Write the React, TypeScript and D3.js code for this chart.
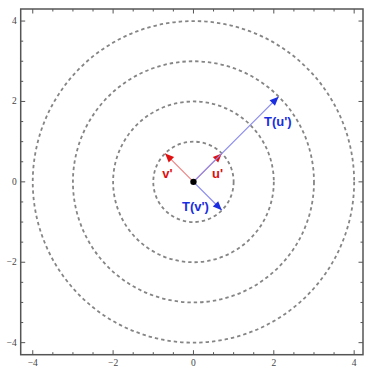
import React from 'react';
import * as d3 from 'd3';

// level circles x^2 + y^2 = r^2
const radii = [1, 2, 3, 4];

// vectors drawn from the origin
const vectorNames = ["u'", "v'", "T(u')", "T(v')"];
const vectorX = [0.707, -0.707, 2.12, 0.707];
const vectorY = [0.707, 0.707, 2.12, -0.707];

const majorTicks = [-4, -2, 0, 2, 4];
const minorTicks = d3.range(-4, 4.01, 0.5);

const W = 365;
const H = 368;

const fmt = (t: number) => (t < 0 ? '\u2212' + (-t) : String(t));

const App = () => {
    const x = d3.scaleLinear().domain([-4.3, 4.22]).range([20.7, 363]);
    const y = d3.scaleLinear().domain([-4.3, 4.3]).range([354.7, 9]);

    const frameColor = '#555';
    const isRed = (i: number) => i < 2;
    const lineColor = (i: number) => (isRed(i) ? '#ee8080' : '#8a8af0');
    const headColor = (i: number) => (isRed(i) ? '#e01010' : '#1a2ee0');

    // label placement (data coords)
    const labelPos = [[0.6, 0.22], [-0.65, 0.22], [2.1, 1.5], [0.05, -0.62]];

    const arrowHead = (i: number) => {
        const x1 = x(vectorX[i]);
        const y1 = y(vectorY[i]);
        const x0 = x(0);
        const y0 = y(0);
        const len = Math.hypot(x1 - x0, y1 - y0);
        const ux = (x1 - x0) / len;
        const uy = (y1 - y0) / len;
        const hl = 9;
        const hw = 3.8;
        const bx = x1 - ux * hl;
        const by = y1 - uy * hl;
        return `${x1},${y1} ${bx - uy * hw},${by + ux * hw} ${bx + uy * hw},${by - ux * hw}`;
    };

    return (
        <svg width={W} height={H} style={{ position: 'absolute', left: 0, top: 0, background: '#fff' }}>
            {/* circles */}
            {radii.map(r => (
                <ellipse key={r} cx={x(0)} cy={y(0)} rx={x(r) - x(0)} ry={y(0) - y(r)}
                    fill="none" stroke="#858585" strokeWidth={1.8} strokeDasharray="3.4,3" />
            ))}

            {/* vectors */}
            {vectorNames.map((n, i) => (
                <g key={n}>
                    <line x1={x(0)} y1={y(0)} x2={x(vectorX[i])} y2={y(vectorY[i])}
                        stroke={lineColor(i)} strokeWidth={1.2} />
                    <polygon points={arrowHead(i)} fill={headColor(i)} />
                </g>
            ))}
            <circle cx={x(0)} cy={y(0)} r={3.2} fill="#000" />

            {vectorNames.map((n, i) => (
                <text key={n} x={x(labelPos[i][0])} y={y(labelPos[i][1])} textAnchor="middle"
                    dominantBaseline="central" fill={headColor(i)} fontFamily="Liberation Sans, Arial, sans-serif"
                    fontWeight="bold" fontSize={13}>{n}</text>
            ))}

            {/* frame */}
            <rect x={x.range()[0]} y={y.range()[1]} width={x.range()[1] - x.range()[0]}
                height={y.range()[0] - y.range()[1]} fill="none" stroke={frameColor} strokeWidth={1.5} />

            {minorTicks.map(t => {
                const major = majorTicks.includes(t);
                const len = major ? 4.5 : 2.5;
                return (
                    <g key={t} stroke={frameColor} strokeWidth={1}>
                        <line x1={x(t)} x2={x(t)} y1={y.range()[0]} y2={y.range()[0] - len} />
                        <line x1={x(t)} x2={x(t)} y1={y.range()[1]} y2={y.range()[1] + len} />
                        <line y1={y(t)} y2={y(t)} x1={x.range()[0]} x2={x.range()[0] + len} />
                        <line y1={y(t)} y2={y(t)} x1={x.range()[1]} x2={x.range()[1] - len} />
                    </g>
                );
            })}

            {majorTicks.map(t => (
                <g key={'l' + t} fill="#444" fontFamily="Liberation Serif, Times New Roman, serif" fontSize={9.5}>
                    <text x={x(t)} y={y.range()[0] + 11.5} textAnchor="middle">{fmt(t)}</text>
                    <text x={x.range()[0] - 4} y={y(t)} textAnchor="end" dominantBaseline="central">{fmt(t)}</text>
                </g>
            ))}
        </svg>
    );
};

export default App;
